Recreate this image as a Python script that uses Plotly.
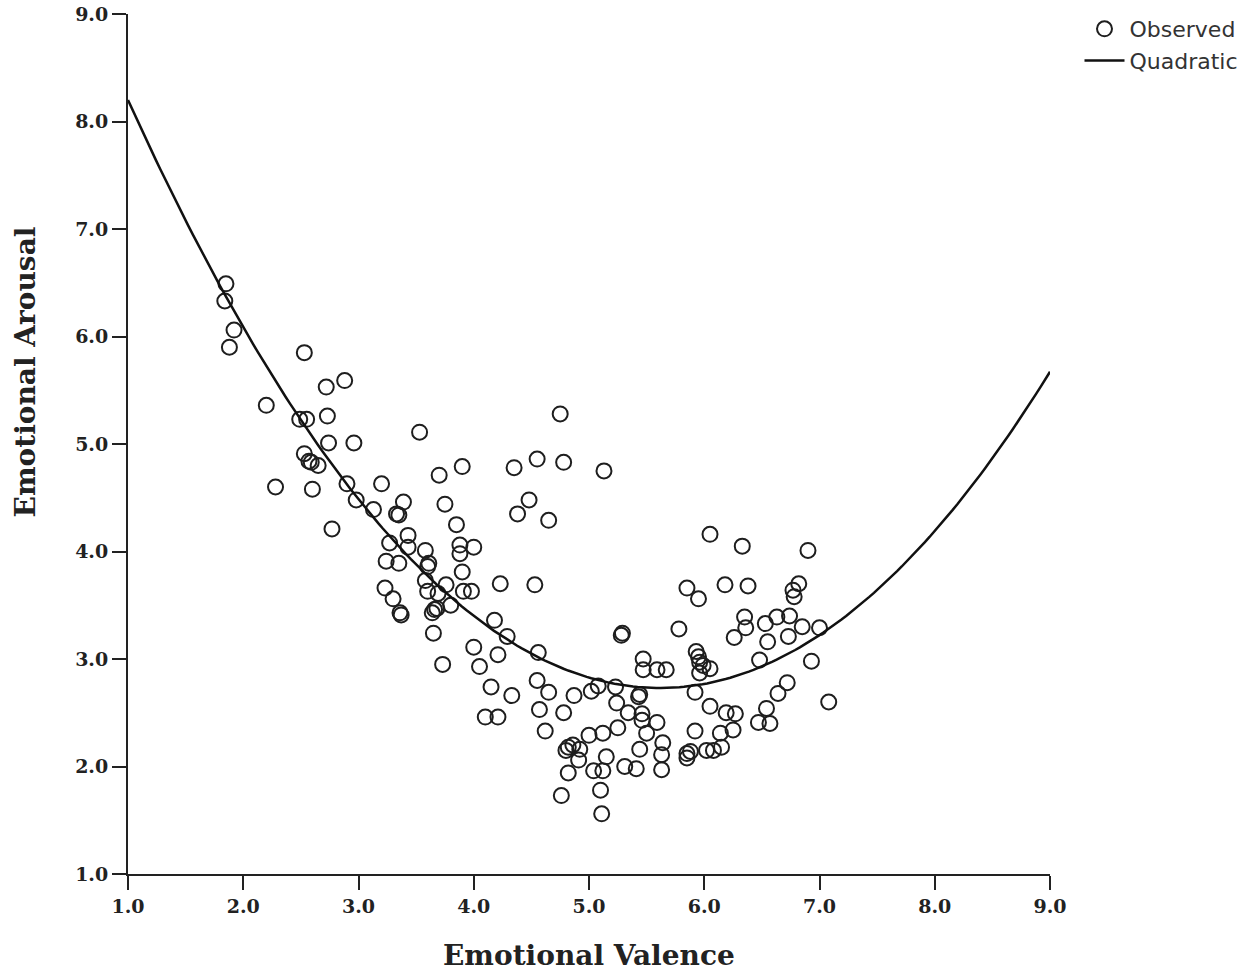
import numpy as np
import plotly.graph_objects as go

# observed (valence, arousal) pairs
valence = [
    1.85, 1.84, 1.92, 1.88, 2.53, 2.72, 2.88, 2.20, 2.49, 2.55, 2.73, 3.53, 2.74, 2.96, 2.53,
    2.57, 2.59, 2.65, 3.90, 3.70, 2.28, 2.60, 2.90, 3.20, 2.98, 3.39, 3.75, 3.13, 3.33, 3.35,
    2.77, 3.85, 3.43, 3.27, 3.58, 3.43, 3.88, 4.00, 3.88,
    4.75, 4.35, 4.55, 4.78, 5.13, 4.48, 4.38, 4.65, 3.24, 3.35, 3.61, 3.60, 3.90, 3.58, 3.76,
    4.23, 4.53, 3.23, 3.60, 3.91, 3.98, 3.30, 3.69, 3.80, 3.36, 3.37, 3.66, 3.64, 3.68, 4.18,
    4.29, 3.65, 4.00, 4.21, 4.56, 5.28, 5.29, 3.73, 4.05, 4.55, 4.15,
    4.33, 4.65, 4.57, 4.10, 4.21, 4.62, 4.78, 4.87, 5.02, 5.08, 5.23, 5.44, 5.43, 5.47, 5.47,
    5.59, 5.67, 5.24, 5.34, 5.46, 5.46, 5.59, 5.50, 5.25, 5.12, 5.00, 4.82, 4.86, 4.92, 4.80,
    4.91, 5.15, 5.44, 5.64, 5.63, 4.82, 5.04, 5.12, 5.31, 5.41, 5.63, 4.76, 5.10, 5.11, 5.85,
    5.95, 6.18, 5.78, 5.93, 5.95, 5.96, 5.99, 6.05, 5.96, 5.92, 6.05, 6.19, 6.27, 5.92, 6.14,
    6.25, 6.02, 6.08, 6.15, 5.85, 5.85, 5.88,
    6.05, 6.33, 6.90, 6.38, 6.77, 6.82, 6.78, 6.35, 6.36, 6.26, 6.53, 6.63, 6.74, 6.85, 7.00,
    6.73, 6.55, 6.48, 6.93, 6.72, 6.64, 7.08, 6.54, 6.47, 6.57,
]
arousal = [
    6.49, 6.33, 6.06, 5.90, 5.85, 5.53, 5.59, 5.36, 5.23, 5.23, 5.26, 5.11, 5.01, 5.01, 4.91,
    4.84, 4.83, 4.80, 4.79, 4.71, 4.60, 4.58, 4.63, 4.63, 4.48, 4.46, 4.44, 4.39, 4.35, 4.34,
    4.21, 4.25, 4.15, 4.08, 4.01, 4.04, 4.06, 4.04, 3.98,
    5.28, 4.78, 4.86, 4.83, 4.75, 4.48, 4.35, 4.29, 3.91, 3.89, 3.89, 3.86, 3.81, 3.73, 3.69,
    3.70, 3.69, 3.66, 3.63, 3.63, 3.63, 3.56, 3.61, 3.50, 3.43, 3.41, 3.46, 3.43, 3.47, 3.36,
    3.21, 3.24, 3.11, 3.04, 3.06, 3.22, 3.24, 2.95, 2.93, 2.80, 2.74,
    2.66, 2.69, 2.53, 2.46, 2.46, 2.33, 2.50, 2.66, 2.70, 2.75, 2.74, 2.67, 2.65, 3.00, 2.90,
    2.90, 2.90, 2.59, 2.50, 2.49, 2.43, 2.41, 2.31, 2.36, 2.31, 2.29, 2.18, 2.20, 2.16, 2.15,
    2.06, 2.09, 2.16, 2.22, 2.11, 1.94, 1.96, 1.96, 2.00, 1.98, 1.97, 1.73, 1.78, 1.56, 3.66,
    3.56, 3.69, 3.28, 3.07, 3.02, 2.97, 2.94, 2.91, 2.87, 2.69, 2.56, 2.50, 2.49, 2.33, 2.31,
    2.34, 2.15, 2.15, 2.18, 2.12, 2.08, 2.14,
    4.16, 4.05, 4.01, 3.68, 3.64, 3.70, 3.58, 3.39, 3.29, 3.20, 3.33, 3.39, 3.40, 3.30, 3.29,
    3.21, 3.16, 2.99, 2.98, 2.78, 2.68, 2.60, 2.54, 2.41, 2.40,
]

# quadratic fit y = b0 + b1*x + b2*x^2 (coefficients)
quad_coef = [10.827, -2.884, 0.2568]
tick_vals = [1, 2, 3, 4, 5, 6, 7, 8, 9]

xfit = np.linspace(1, 9, 200)
yfit = quad_coef[0] + quad_coef[1] * xfit + quad_coef[2] * xfit ** 2

fig = go.Figure()
fig.add_trace(go.Scatter(x=valence, y=arousal, mode="markers", name="Observed",
                         marker=dict(symbol="circle-open", size=15, color="#1e1e1e",
                                     line=dict(width=2, color="#1e1e1e"))))
fig.add_trace(go.Scatter(x=xfit, y=yfit, mode="lines", name="Quadratic",
                         line=dict(color="#111111", width=2.5)))

serif = "DejaVu Serif"
axis_common = dict(range=[1, 9], tickvals=tick_vals, tickformat=".1f", showgrid=False, zeroline=False,
                   showline=True, linecolor="#222", linewidth=2, ticks="outside", ticklen=14,
                   tickwidth=2, tickcolor="#222", automargin=False, ticklabeloverflow="allow",
                   tickfont=dict(family=serif, size=19, color="#222", weight="bold"))
fig.update_xaxes(**axis_common)
fig.update_yaxes(**axis_common)

title_font = dict(family=serif, size=28, color="#222", weight="bold")
fig.add_annotation(text="Emotional Valence", xref="paper", yref="paper", x=0.5, y=-0.095,
                   xanchor="center", yanchor="middle", showarrow=False, font=title_font)
fig.add_annotation(text="Emotional Arousal", xref="paper", yref="paper", x=-0.111, y=0.584,
                   xanchor="center", yanchor="middle", textangle=-90, showarrow=False, font=title_font)

fig.update_layout(width=1250, height=976, plot_bgcolor="white", paper_bgcolor="white",
                  margin=dict(l=128, r=200, t=14, b=102),
                  legend=dict(xref="container", yref="container", x=0.8636, y=0.9918,
                              xanchor="left", yanchor="top", itemwidth=40,
                              tracegroupgap=0, bgcolor="rgba(0,0,0,0)",
                              font=dict(family="DejaVu Sans", size=22, color="#333")))

# drop the page's default body margin so the figure sits flush at the top-left
fig.write_html("out.html", config={"displayModeBar": False},
               post_script="document.body.style.margin = '0';")
